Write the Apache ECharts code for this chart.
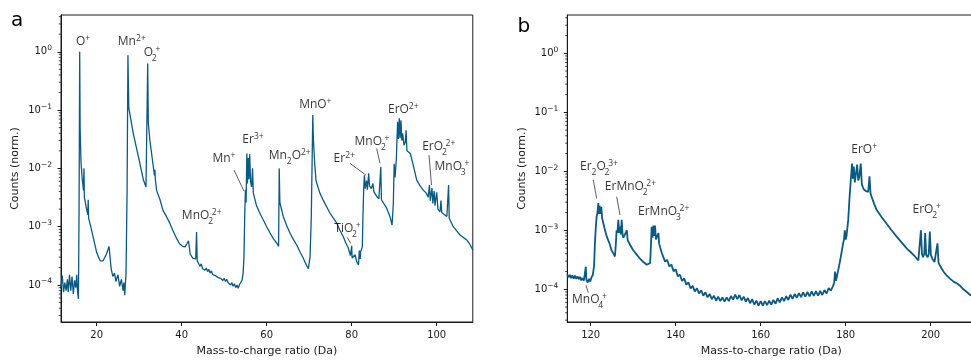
<!DOCTYPE html>
<html><head><meta charset="utf-8">
<script src="https://cdn.jsdelivr.net/npm/echarts@6/dist/echarts.min.js"></script>
<style>html,body{margin:0;padding:0;background:#fff}#c{width:971px;height:360px}</style>
</head><body><div id="c"></div><script>
// ---------- data ----------
const spectrumA = [
[11.6,9.0e-5],[11.9,1.45e-4],[12.2,7.5e-5],[12.5,1.1e-4],[12.8,8.0e-5],[13.1,1.25e-4],[13.3,7.5e-5],[13.6,1.5e-4],
[13.9,8.0e-5],[14.2,1.4e-4],[14.5,7.0e-5],[14.8,1.2e-4],[15.1,9.0e-5],[15.3,1.5e-4],[15.5,7.5e-5],[15.7,5.8e-5],
[15.85,2.0e-3],[16.0,1.0],[16.1,0.05],[16.3,1.3e-2],[16.6,6.5e-3],[16.9,4.2e-3],[17.0,1.0e-2],[17.1,3.2e-3],
[17.5,2.2e-3],[17.9,1.6e-3],[18.0,2.9e-3],[18.1,1.4e-3],[18.6,1.0e-3],[19.3,6.0e-4],[20.0,3.6e-4],[20.8,2.6e-4],
[21.5,2.6e-4],[22.3,3.4e-4],[22.9,4.6e-4],[23.4,1.9e-4],[23.8,1.4e-4],[24.2,1.6e-4],[24.5,1.15e-4],[25.0,1.5e-4],
[25.4,9.5e-5],[25.8,1.25e-4],[26.2,8.0e-5],[26.4,1.1e-4],[26.6,6.7e-5],[26.9,1.6e-4],[27.15,4.0e-3],[27.35,0.87],
[27.55,0.11],[28.6,0.04],[29.8,0.016],[31.0,6.3e-3],[31.6,4.8e-3],[31.85,4.6e-3],[32.0,0.63],[32.15,0.06],
[32.5,0.031],[33.3,0.011],[33.6,7.5e-3],[33.7,9.5e-3],[33.8,6.5e-3],[34.1,4.2e-3],[34.9,2.9e-3],[35.6,1.9e-3],
[36.4,1.5e-3],[37.2,1.15e-3],[37.9,8.7e-4],[38.7,6.5e-4],[39.5,5.1e-4],[40.2,4.6e-4],[40.8,4.5e-4],[41.3,5.2e-4],
[41.6,5.7e-4],[42.0,3.4e-4],[42.6,2.9e-4],[43.3,2.8e-4],[43.5,8.1e-4],[43.65,2.6e-4],[44.0,2.5e-4],
[44.3,2.1e-4],[44.6,2.3e-4],[44.9,1.9e-4],[45.2,2.05e-4],[45.5,1.8e-4],[45.8,1.95e-4],[46.1,1.7e-4],[46.4,1.85e-4],
[46.7,1.6e-4],[47.0,1.75e-4],[47.3,1.5e-4],[47.6,1.6e-4],[47.9,1.45e-4],[48.2,1.55e-4],[48.5,1.35e-4],[48.8,1.45e-4],
[49.1,1.3e-4],[49.4,1.4e-4],[49.7,1.2e-4],[50.0,1.3e-4],[50.3,1.15e-4],[50.6,1.25e-4],[50.9,1.1e-4],[51.2,1.15e-4],
[51.5,1.0e-4],[51.8,1.1e-4],[52.1,9.5e-5],[52.4,1.05e-4],[52.7,9.0e-5],[53.0,1.0e-4],[53.3,8.8e-5],[53.6,1.02e-4],
[53.9,9.5e-5],[54.2,1.2e-4],[54.45,1.6e-4],[54.65,3.0e-4],[54.85,1.8e-3],[55.0,4.3e-3],[55.15,2.6e-3],[55.33,1.8e-2],
[55.47,5.5e-3],[55.67,1.5e-2],[55.82,6.5e-3],[56.0,1.75e-2],[56.2,6.0e-3],[56.45,4.8e-3],[56.67,1.0e-2],[56.85,3.8e-3],
[57.6,2.3e-3],[58.4,1.7e-3],[59.2,1.3e-3],[60.0,1.0e-3],[60.8,7.8e-4],[61.6,6.2e-4],[62.4,5.2e-4],[62.8,4.6e-4],
[62.95,1.0e-2],[63.1,2.6e-3],[63.9,1.5e-3],[64.7,1.05e-3],[65.5,7.7e-4],[66.3,6.0e-4],[67.1,4.8e-4],[67.9,3.6e-4],
[68.6,2.9e-4],[69.2,2.3e-4],[69.8,1.9e-4],[70.2,3.0e-4],[70.5,1.5e-3],[70.85,0.082],[71.0,0.03],[71.3,0.012],
[71.6,6.3e-3],[71.8,5.5e-3],[72.5,3.8e-3],[73.3,2.85e-3],[74.1,2.2e-3],[74.9,1.7e-3],[75.7,1.4e-3],[76.5,1.15e-3],
[77.2,8.8e-4],[78.0,6.8e-4],[78.6,5.3e-4],[79.2,4.3e-4],[79.7,3.2e-4],[79.9,3.0e-4],[80.0,4.7e-4],[80.1,2.9e-4],
[80.4,2.9e-4],[80.8,3.3e-4],[81.2,2.5e-4],[81.6,2.2e-4],[81.8,3.9e-4],[82.0,2.8e-4],[82.1,3.7e-4],[82.5,4.5e-4],
[82.65,1.5e-3],[82.85,5.0e-3],[83.0,7.6e-3],[83.2,4.5e-3],[83.5,6.2e-3],[83.7,4.3e-3],[84.0,8.2e-3],[84.2,5.0e-3],
[84.6,4.5e-3],[85.0,5.5e-3],[85.2,4.0e-3],[85.9,3.3e-3],[86.4,3.0e-3],[86.7,2.9e-3],[86.85,1.07e-2],[87.0,2.9e-3],
[87.4,2.7e-3],[88.2,2.1e-3],[89.0,1.5e-3],[89.5,1.07e-3],[89.8,2.5e-3],[90.0,1.2e-2],[90.2,7.0e-3],[90.5,1.4e-2],
[90.8,0.063],[91.0,0.032],[91.2,0.072],[91.4,0.033],[91.6,0.067],[91.8,0.03],[92.0,0.04],[92.3,0.025],
[92.6,0.028],[92.8,0.045],[93.0,0.02],[93.8,0.018],[94.6,0.0105],[95.3,6.3e-3],[96.1,5.0e-3],[96.9,4.2e-3],
[97.5,3.8e-3],[98.0,3.2e-3],[98.3,5.2e-3],[98.5,2.8e-3],[98.9,4.6e-3],[99.1,2.5e-3],[99.4,4.1e-3],[99.6,2.3e-3],
[100.0,3.9e-3],[100.3,2.0e-3],[100.8,1.8e-3],[101.0,2.8e-3],[101.2,1.75e-3],[101.6,1.7e-3],[102.4,1.5e-3],[102.65,1.45e-3],
[102.8,5.2e-3],[102.95,1.4e-3],[103.1,1.3e-3],[103.9,1.0e-3],[104.7,8.5e-4],[105.5,7.2e-4],[106.3,6.5e-4],[107.1,5.9e-4],
[107.8,5.0e-4],[108.5,4.0e-4]
];
const spectrumB = [
[114.5,1.8e-4],[114.8,1.6e-4],[115.1,1.75e-4],[115.4,1.55e-4],[115.7,1.72e-4],[116.0,1.52e-4],[116.3,1.7e-4],[116.6,1.5e-4],
[116.9,1.65e-4],[117.2,1.48e-4],[117.5,1.62e-4],[117.8,1.42e-4],[118.1,1.55e-4],[118.4,1.4e-4],[118.7,1.5e-4],[118.85,2.4e-4],
[119.0,1.45e-4],[119.3,1.3e-4],[119.6,1.5e-4],[119.9,1.35e-4],[120.2,1.6e-4],[120.5,1.75e-4],[120.8,2.5e-4],[121.0,6.0e-4],
[121.2,1.1e-3],[121.4,1.7e-3],[121.6,2.0e-3],[121.8,2.9e-3],[121.95,1.9e-3],[122.1,2.6e-3],[122.3,1.9e-3],[122.5,2.5e-3],
[122.7,1.6e-3],[122.9,1.5e-3],[123.3,1.05e-3],[123.8,7.8e-4],[124.5,5.8e-4],[124.9,4.6e-4],[125.3,4.1e-4],[125.7,3.6e-4],
[125.9,5.5e-4],[126.1,1.0e-3],[126.3,9.0e-4],[126.5,1.5e-3],[126.7,9.0e-4],[126.9,1.15e-3],[127.1,8.5e-4],[127.3,1.5e-3],
[127.5,8.5e-4],[127.7,7.5e-4],[128.1,7.0e-4],[128.5,1.0e-3],[128.7,6.8e-4],[129.2,5.8e-4],[130.0,4.6e-4],[130.8,3.9e-4],
[131.6,3.3e-4],[132.4,2.9e-4],[133.2,2.6e-4],[133.6,2.5e-4],[134.0,2.8e-4],[134.2,6.0e-4],[134.35,1.15e-3],[134.55,7.5e-4],
[134.75,1.2e-3],[134.95,8.0e-4],[135.15,1.2e-3],[135.35,7.0e-4],[135.55,7.5e-4],[135.8,6.5e-4],[135.95,9.0e-4],[136.1,6.0e-4],
[136.4,5.0e-4],[136.7,4.2e-4],
[137.0,3.92e-4],[137.5,2.94e-4],[138.0,3.16e-4],[138.5,2.44e-4],[139.0,2.62e-4],[139.5,2.02e-4],[140.0,2.18e-4],[140.5,1.66e-4],
[141.0,1.77e-4],[141.5,1.38e-4],[142.0,1.53e-4],[142.5,1.2e-4],[143.0,1.31e-4],[143.5,1.03e-4],[144.0,1.14e-4],[144.5,9.2e-5],
[145.0,1.04e-4],[145.5,8.5e-5],[146.0,9.6e-5],[146.5,7.8e-5],[147.0,8.9e-5],[147.5,7.3e-5],[148.0,8.3e-5],[148.5,6.8e-5],
[149.0,7.8e-5],[149.5,6.4e-5],[150.0,7.5e-5],[150.5,6.3e-5],[151.0,7.3e-5],[151.5,6.2e-5],[152.0,7.3e-5],[152.5,6.3e-5],
[153.0,7.7e-5],[153.5,6.7e-5],[154.0,8.1e-5],[154.5,6.8e-5],[155.0,8.0e-5],[155.5,6.5e-5],[156.0,7.5e-5],[156.5,6.2e-5],
[157.0,7.1e-5],[157.5,5.8e-5],[158.0,6.8e-5],[158.5,5.5e-5],[159.0,6.4e-5],[159.5,5.3e-5],[160.0,6.3e-5],[160.5,5.3e-5],
[161.0,6.3e-5],[161.5,5.4e-5],[162.0,6.4e-5],[162.5,5.5e-5],[163.0,6.6e-5],[163.5,5.7e-5],[164.0,7.0e-5],[164.5,6.0e-5],
[165.0,7.3e-5],[165.5,6.3e-5],[166.0,7.6e-5],[166.5,6.6e-5],[167.0,8.1e-5],[167.5,6.9e-5],[168.0,8.3e-5],[168.5,7.2e-5],
[169.0,8.6e-5],[169.5,7.4e-5],[170.0,8.9e-5],[170.5,7.5e-5],[171.0,9.0e-5],[171.5,7.6e-5],[172.0,9.2e-5],[172.5,7.7e-5],
[173.0,9.3e-5],[173.5,7.8e-5],[174.0,9.4e-5],[174.5,8.0e-5],[175.0,9.7e-5],[175.5,8.5e-5],[176.0,1.05e-4],[176.5,9.5e-5],
[177.0,1.12e-4],[177.3,1.3e-4],[177.5,2.0e-4],[177.7,1.4e-4],[177.9,1.6e-4],[178.3,2.2e-4],[178.7,3.1e-4],[179.1,4.5e-4],
[179.4,6.0e-4],[179.6,7.0e-4],[179.8,1.0e-3],[180.0,7.0e-4],[180.2,8.0e-4],[180.6,1.5e-3],[180.9,3.5e-3],[181.2,7.0e-3],
[181.5,1.35e-2],[181.7,7.5e-3],[181.9,1.2e-2],[182.15,6.5e-3],[182.4,7.0e-3],[182.7,1.3e-2],[182.95,7.0e-3],[183.2,8.0e-3],
[183.55,1.35e-2],[183.8,6.0e-3],[184.2,5.0e-3],[184.8,4.6e-3],[185.3,4.5e-3],[185.6,8.2e-3],[185.85,4.2e-3],[186.1,3.7e-3],
[186.7,2.8e-3],[187.3,2.2e-3],[188.4,1.7e-3],[189.6,1.3e-3],[190.8,1.0e-3],[192.0,7.8e-4],[193.2,6.2e-4],[194.4,4.9e-4],
[195.4,4.2e-4],[196.3,3.6e-4],[197.1,3.1e-4],[197.4,3.3e-4],[197.7,1.0e-3],[197.95,4.0e-4],[198.2,3.5e-4],[198.5,4.0e-4],
[198.7,9.0e-4],[198.95,3.8e-4],[199.3,3.5e-4],[199.55,4.0e-4],[199.8,9.5e-4],[200.05,3.8e-4],[200.4,3.3e-4],[200.9,2.9e-4],
[201.3,3.0e-4],[201.6,6.0e-4],[201.85,2.8e-4],[202.2,2.5e-4],[203.0,2.0e-4],[203.4,1.95e-4],[203.8,1.7e-4],[204.2,1.68e-4],
[204.6,1.5e-4],[205.0,1.5e-4],[205.4,1.35e-4],[205.8,1.36e-4],[206.2,1.25e-4],[206.6,1.24e-4],[206.9,1.15e-4],[207.3,1.12e-4],
[207.7,1.0e-4],[208.1,1.0e-4],[208.5,9.0e-5],[208.9,8.8e-5],[209.3,8.0e-5],[209.8,7.8e-5],[210.5,7.0e-5]
];
const xTicksA = [20, 40, 60, 80, 100];
const xTicksB = [120, 140, 160, 180, 200];
const yTicks = [1e-4, 1e-3, 1e-2, 1e-1, 1];
const yMinorTicks = [3e-5,4e-5,5e-5,6e-5,7e-5,8e-5,9e-5,
  2e-4,3e-4,4e-4,5e-4,6e-4,7e-4,8e-4,9e-4,
  2e-3,3e-3,4e-3,5e-3,6e-3,7e-3,8e-3,9e-3,
  2e-2,3e-2,4e-2,5e-2,6e-2,7e-2,8e-2,9e-2,
  0.2,0.3,0.4,0.5,0.6,0.7,0.8,0.9, 2,3,4];
// peak labels: rich text, anchored at [mass, counts]
const labelTextsA = ['{t|O}{p|+}','{t|Mn}{p|2+}','{t|O}{q|2}{p|+}','{t|MnO}{q|2}{p|2+}','{t|Mn}{p|+}','{t|Er}{p|3+}',
  '{t|Mn}{d|2}{t|O}{p|2+}','{t|MnO}{p|+}','{t|Er}{p|2+}','{t|MnO}{q|2}{p|+}','{t|ErO}{p|2+}','{t|ErO}{q|2}{p|2+}',
  '{t|MnO}{q|3}{p|+}','{t|TiO}{q|2}{p|+}'];
const labelMassA = [16.78, 28.24, 33.01, 44.71, 49.95, 56.78, 65.41, 71.44, 78.24, 84.78, 92.14, 100.49, 103.6, 79.0];
const labelCountsA = [1.47, 1.47, 0.95, 1.58e-3, 1.5e-2, 3.06e-2, 1.69e-2, 0.122, 1.5e-2, 2.86e-2, 0.1, 2.35e-2, 1.07e-2, 9.3e-4];
const leadersA = [[52.31,9.35e-3,54.66,4.07e-3],[79.6,1.22e-2,83.36,7.67e-3],[85.88,2.2e-2,86.66,1.22e-2],
  [98.19,1.69e-2,98.78,5.17e-3],[78.96,6.55e-4,79.76,5.17e-4]];
const labelTextsB = ['{t|Er}{d|2}{t|O}{q|2}{p|3+}','{t|ErMnO}{q|2}{p|2+}','{t|ErMnO}{q|3}{p|2+}','{t|MnO}{q|4}{p|+}',
  '{t|ErO}{p|+}','{t|ErO}{q|2}{p|+}'];
const labelMassB = [121.95, 129.36, 137.18, 119.72, 184.35, 199.06];
const labelCountsB = [1.2e-2, 5.48e-3, 2.07e-3, 6.59e-5, 2.3e-2, 2.21e-3];
const leadersB = [[120.61,7.13e-3,121.41,3.49e-3],[126.12,3.71e-3,126.89,1.82e-3],[118.89,1.18e-4,119.44,8.75e-5]];

// ---------- styling ----------
const INK = '#1a1a1a';
const LINE = '#0b5a82';
const FONT = "'DejaVu Sans', sans-serif";
const AFONT = "'Open Sans', sans-serif";
const annoRich = {
  t: {fontFamily: AFONT, fontSize: 12, color: '#000', lineHeight: 20},
  p: {fontFamily: AFONT, fontSize: 8.5, color: '#000', height: 8, lineHeight: 11, padding: [3, 0, 0, 0], verticalAlign: 'top'},
  d: {fontFamily: AFONT, fontSize: 8.5, color: '#000', height: 8, lineHeight: 8, verticalAlign: 'bottom'},
  q: {fontFamily: AFONT, fontSize: 8.5, color: '#000', height: 8, lineHeight: 8, verticalAlign: 'bottom', width: 2.5}
};
const tickRich = {
  b: {fontFamily: FONT, fontSize: 10, color: INK, lineHeight: 14},
  s: {fontFamily: FONT, fontSize: 7.5, color: INK, height: 7, lineHeight: 7, verticalAlign: 'top'}
};
function logLabel(v) {
  const e = Math.round(Math.log10(v));
  return '{b|10}{s|' + (e < 0 ? '\u2212' + (-e) : String(e)) + '}';
}

const panels = [
  {grid: {left: 61, top: 15, width: 411.8, height: 307}, xMin: 11.6, xMax: 108.5, yMin: 2.32e-5, yMax: 4.27,
   xTicks: xTicksA, data: spectrumA, texts: labelTextsA, lm: labelMassA, lc: labelCountsA, leaders: leadersA, lw: 1.3},
  {grid: {left: 567.3, top: 15, width: 408, height: 307}, xMin: 114.5, xMax: 210.5, yMin: 2.79e-5, yMax: 4.46,
   xTicks: xTicksB, data: spectrumB, texts: labelTextsB, lm: labelMassB, lc: labelCountsB, leaders: leadersB, lw: 1.8}
];

const option = {
  animation: false,
  backgroundColor: '#ffffff',
  grid: [], xAxis: [], yAxis: [], series: [],
  graphic: [
    {type: 'text', x: 11, y: 20.5, style: {text: 'a', fontSize: 20, fontFamily: FONT, fill: '#000', verticalAlign: 'middle'}},
    {type: 'text', x: 517.5, y: 26.5, style: {text: 'b', fontSize: 20, fontFamily: FONT, fill: '#000', verticalAlign: 'middle'}}
  ]
};

panels.forEach((p, i) => {
  option.grid.push(Object.assign({show: true, borderColor: INK, borderWidth: 1, backgroundColor: 'transparent',
    containLabel: false, outerBoundsMode: 'none'}, p.grid));
  option.xAxis.push({
    type: 'value', gridIndex: i, min: p.xMin, max: p.xMax,
    axisLine: {show: true, onZero: false, lineStyle: {color: INK, width: 1}},
    axisTick: {show: true, length: 4, lineStyle: {color: INK, width: 1}, customValues: p.xTicks},
    axisLabel: {customValues: p.xTicks, fontFamily: FONT, fontSize: 10, color: INK, margin: 8.5},
    splitLine: {show: false},
    name: 'Mass-to-charge ratio (Da)', nameLocation: 'middle', nameGap: 24,
    nameTextStyle: {fontFamily: FONT, fontSize: 11, color: INK}
  });
  option.yAxis.push({
    type: 'log', logBase: 10, gridIndex: i, min: p.yMin, max: p.yMax,
    axisLine: {show: true, lineStyle: {color: INK, width: 1}},
    axisTick: {show: true, length: 3.5, lineStyle: {color: INK, width: 1}, customValues: yTicks},
    minorTick: {show: false},
    axisLabel: {customValues: yTicks, formatter: logLabel, rich: tickRich, margin: 9},
    splitLine: {show: false},
    name: 'Counts (norm.)', nameLocation: 'middle', nameGap: 40,
    nameTextStyle: {fontFamily: FONT, fontSize: 11, color: INK}
  });
  option.series.push({
    type: 'line', xAxisIndex: i, yAxisIndex: i, data: p.data, showSymbol: false, symbol: 'none',
    lineStyle: {color: LINE, width: p.lw}, itemStyle: {color: LINE}, sampling: null, silent: true, z: 3
  });
  option.series.push({
    type: 'custom', xAxisIndex: i, yAxisIndex: i, silent: true, clip: false, z: 5,
    data: yMinorTicks.filter(v => v >= p.yMin && v <= p.yMax).map(v => [p.xMin, v]),
    encode: {x: 0, y: 1},
    renderItem: (params, api) => {
      const pt = api.coord([api.value(0), api.value(1)]);
      return {type: 'line', shape: {x1: pt[0] - 2.2, y1: pt[1], x2: pt[0], y2: pt[1]},
        style: {stroke: INK, lineWidth: 0.8}};
    }
  });
  option.series.push({
    type: 'scatter', xAxisIndex: i, yAxisIndex: i, silent: true, z: 6,
    symbolSize: 1, itemStyle: {color: 'rgba(0,0,0,0)'},
    data: p.texts.map((t, k) => [p.lm[k], p.lc[k]]),
    label: {show: true, position: 'inside', align: 'center', verticalAlign: 'middle',
      formatter: (prm) => p.texts[prm.dataIndex], rich: annoRich},
    markLine: {
      silent: true, symbol: ['none', 'none'], label: {show: false}, animation: false,
      lineStyle: {color: '#333', width: 0.8, type: 'solid'},
      data: p.leaders.map(l => [{coord: [l[0], l[1]]}, {coord: [l[2], l[3]]}])
    }
  });
});

const chart = echarts.init(document.getElementById('c'));
chart.setOption(option);
</script></body></html>
